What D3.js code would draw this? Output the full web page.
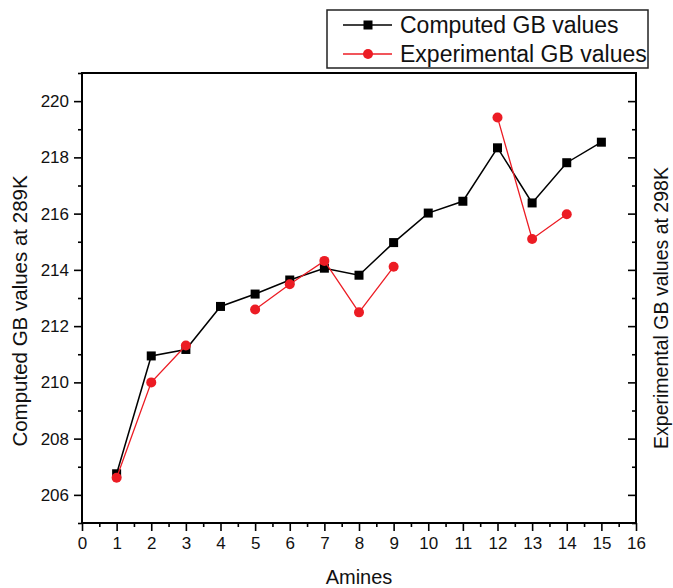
<!DOCTYPE html>
<html>
<head>
<meta charset="utf-8">
<script src="https://cdn.jsdelivr.net/npm/d3@7"></script>
<style>
  html, body { margin: 0; padding: 0; background: #fff; }
  svg { display: block; font-family: "Liberation Sans", Arial, sans-serif; }
</style>
</head>
<body>
<svg id="chart" width="673" height="588"></svg>
<script>
// Amine index on the x axis
const amines = [1, 2, 3, 4, 5, 6, 7, 8, 9, 10, 11, 12, 13, 14, 15];
// Computed gas-phase basicity (kcal/mol) at 289K
const computedGB = [206.75, 210.94, 211.17, 212.70, 213.14, 213.64, 214.06, 213.81, 214.97, 216.02, 216.44, 218.34, 216.38, 217.81, 218.54];
// Experimental gas-phase basicity at 298K (null where no measurement exists)
const experimentalGB = [206.61, 210.00, 211.31, null, 212.59, 213.49, 214.32, 212.49, 214.11, null, null, 219.42, 215.10, 215.98, null];
// Axis tick values
const xTicks = [0, 1, 2, 3, 4, 5, 6, 7, 8, 9, 10, 11, 12, 13, 14, 15, 16];
const yTicks = [206, 208, 210, 212, 214, 216, 218, 220];
const seriesNames = ["Computed GB values", "Experimental GB values"];

const svg = d3.select("#chart");
const margin = { left: 82, right: 37, top: 73, bottom: 65 };
const W = 673, H = 588;
const x0 = margin.left, x1 = W - margin.right, y0 = margin.top, y1 = H - margin.bottom;

const x = d3.scaleLinear().domain([0, 16]).range([x0, x1]);
const y = d3.scaleLinear().domain([205, 221]).range([y1, y0]);

const red = "#ec1c24";
const tickFont = 17;

// Minor ticks
const xMinor = d3.range(0.5, 16, 1);
const yMinor = d3.range(205, 222, 1).filter(v => v % 2 !== 0);

// Bottom axis
const gx = svg.append("g").attr("transform", `translate(0,${y1})`)
  .call(d3.axisBottom(x).tickValues(xTicks).tickFormat(d3.format("d")).tickSize(8).tickSizeOuter(0).tickPadding(6));
svg.append("g").attr("transform", `translate(0,${y1})`)
  .call(d3.axisBottom(x).tickValues(xMinor).tickFormat("").tickSize(4).tickSizeOuter(0))
  .call(g => g.select(".domain").remove());

// Left axis
const gy = svg.append("g").attr("transform", `translate(${x0},0)`)
  .call(d3.axisLeft(y).tickValues(yTicks).tickFormat(d3.format("d")).tickSize(8).tickSizeOuter(0).tickPadding(5));
svg.append("g").attr("transform", `translate(${x0},0)`)
  .call(d3.axisLeft(y).tickValues(yMinor).tickFormat("").tickSize(4).tickSizeOuter(0))
  .call(g => g.select(".domain").remove());

// Right axis: inward ticks, no labels
svg.append("g").attr("transform", `translate(${x1},0)`)
  .call(d3.axisLeft(y).tickValues(yTicks).tickFormat("").tickSize(8).tickSizeOuter(0))
  .call(g => g.select(".domain").remove());
svg.append("g").attr("transform", `translate(${x1},0)`)
  .call(d3.axisLeft(y).tickValues(yMinor.filter(v => v < 221)).tickFormat("").tickSize(4).tickSizeOuter(0))
  .call(g => g.select(".domain").remove());

svg.selectAll(".tick line").attr("stroke", "#000").attr("stroke-width", 1.6);
svg.selectAll(".tick text").attr("font-size", tickFont).attr("fill", "#111")
  .attr("font-family", "Liberation Sans, Arial, sans-serif");
svg.selectAll(".domain").remove();

// Frame
svg.append("rect")
  .attr("x", x0).attr("y", y0).attr("width", x1 - x0).attr("height", y1 - y0)
  .attr("fill", "none").attr("stroke", "#000").attr("stroke-width", 2);

// Series data
const comp = amines.map((a, i) => ({ a, v: computedGB[i] }));
const expt = amines.map((a, i) => ({ a, v: experimentalGB[i] }));

const line = d3.line().defined(d => d.v !== null).x(d => x(d.a)).y(d => y(d.v));

svg.append("path").datum(comp).attr("d", line)
  .attr("fill", "none").attr("stroke", "#000").attr("stroke-width", 1.5);
svg.selectAll(".sq").data(comp).join("rect").attr("class", "sq")
  .attr("x", d => x(d.a) - 4.5).attr("y", d => y(d.v) - 4.5)
  .attr("width", 9).attr("height", 9).attr("fill", "#000");

svg.append("path").datum(expt).attr("d", line)
  .attr("fill", "none").attr("stroke", red).attr("stroke-width", 1.3);
svg.selectAll(".dot").data(expt.filter(d => d.v !== null)).join("circle").attr("class", "dot")
  .attr("cx", d => x(d.a)).attr("cy", d => y(d.v)).attr("r", 5).attr("fill", red);

// Axis titles
svg.append("text").attr("x", (x0 + x1) / 2).attr("y", 584)
  .attr("text-anchor", "middle").attr("font-size", 20).attr("fill", "#111").text("Amines");
svg.append("text").attr("transform", `translate(27,311) rotate(-90)`)
  .attr("text-anchor", "middle").attr("font-size", 20.5).attr("fill", "#111")
  .text("Computed GB values at 289K");
svg.append("text").attr("transform", `translate(668,308) rotate(-90)`)
  .attr("text-anchor", "middle").attr("font-size", 19.5).attr("fill", "#111")
  .text("Experimental GB values at 298K");

// Legend
const lg = svg.append("g");
lg.append("rect").attr("x", 327).attr("y", 10).attr("width", 321).attr("height", 58)
  .attr("fill", "#fff").attr("stroke", "#222").attr("stroke-width", 1.5);
const legendRows = [
  { name: seriesNames[0], color: "#000", shape: "square", yy: 25 },
  { name: seriesNames[1], color: red, shape: "circle", yy: 54 }
];
legendRows.forEach(r => {
  lg.append("line").attr("x1", 343).attr("x2", 392).attr("y1", r.yy).attr("y2", r.yy)
    .attr("stroke", r.color).attr("stroke-width", r.shape === "square" ? 1.5 : 1.3);
  if (r.shape === "square") {
    lg.append("rect").attr("x", 368 - 4.5).attr("y", r.yy - 4.5).attr("width", 9).attr("height", 9).attr("fill", r.color);
  } else {
    lg.append("circle").attr("cx", 368).attr("cy", r.yy).attr("r", 5).attr("fill", r.color);
  }
  lg.append("text").attr("x", 400).attr("y", r.yy + 8).attr("font-size", 23).attr("fill", "#111").text(r.name);
});
</script>
</body>
</html>
